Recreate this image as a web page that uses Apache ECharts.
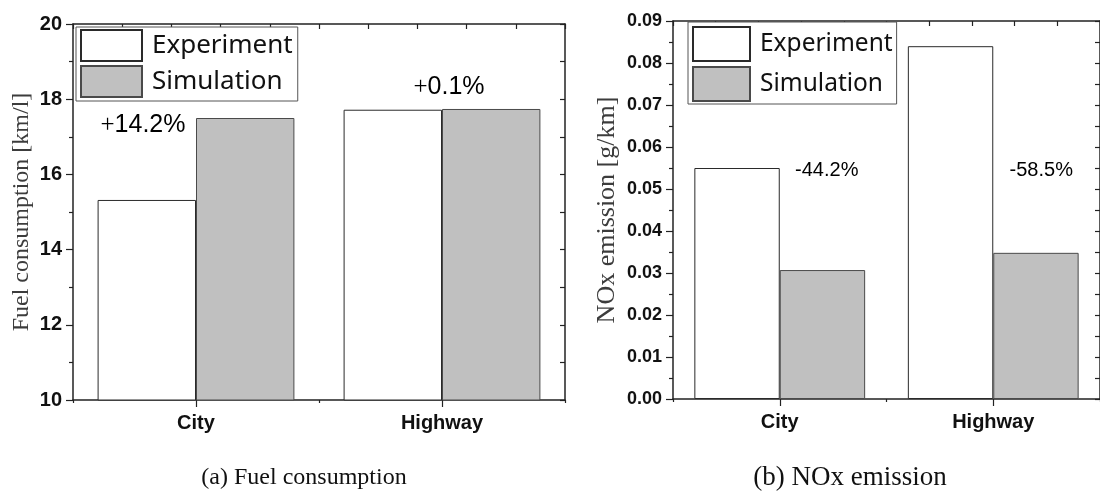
<!DOCTYPE html>
<html>
<head>
<meta charset="utf-8">
<script src="https://cdn.jsdelivr.net/npm/echarts@6/dist/echarts.min.js"></script>
<style>
  html, body { margin: 0; padding: 0; background: #fff; }
  #main { width: 1100px; height: 493px; }
</style>
</head>
<body>
<div id="main"></div>
<script>
// Vehicle test vs. simulation: fuel consumption and NOx emission per drive cycle
const categories = ['City', 'Highway'];
const seriesNames = ['Experiment', 'Simulation'];

const fuelExperiment = [15.32, 17.72];   // km/l
const fuelSimulation = [17.50, 17.74];   // km/l
const noxExperiment = [0.0550, 0.0840];  // g/km
const noxSimulation = [0.0307, 0.0348];  // g/km

const fuelDiffLabels = ['+14.2%', '+0.1%'];
const noxDiffLabels = ['-44.2%', '-58.5%'];

const fuelAxisRange = [10, 20, 2];      // min, max, major step
const noxAxisRange = [0, 0.09, 0.01];

const axisTitles = ['Fuel consumption [km/l]', 'NOx emission [g/km]'];
const captions = ['(a) Fuel consumption', '(b) NOx emission'];

const SANS = 'Liberation Sans, Arial, sans-serif';
const SERIF = 'Liberation Serif, Times New Roman, serif';
const LINE = '#222';

const grids = [
  { left: 73, top: 24, width: 492, height: 376 },
  { left: 673, top: 21, width: 435, height: 378 }
];

const xAxes = [];
const yAxes = [];

function addPanel(gi, range, rightStep, fmt, title, titleSize, nameGap, tickFont) {
  // bottom category axis with labels and centred ticks
  xAxes.push({
    type: 'category', gridIndex: gi, position: 'bottom', data: categories,
    axisLine: { show: true, lineStyle: { color: LINE, width: 1.5 } },
    axisTick: { show: true, alignWithLabel: true, length: 7, lineStyle: { color: LINE, width: 1.2 } },
    axisLabel: { margin: 13, fontFamily: SANS, fontWeight: 'bold', fontSize: 20, color: '#111' },
    splitLine: { show: false }
  });
  // short ticks at the category boundaries
  xAxes.push({
    type: 'category', gridIndex: gi, position: 'bottom', data: categories,
    axisLine: { show: false },
    axisTick: { show: true, length: 3, lineStyle: { color: LINE, width: 1.2 } },
    axisLabel: { show: false },
    splitLine: { show: false }
  });
  // mirrored top frame with inward ticks
  xAxes.push({
    type: 'value', gridIndex: gi, position: 'top', min: 0, max: 2, interval: 0.2,
    axisLine: { show: true, lineStyle: { color: LINE, width: 1.5 } },
    axisTick: { show: true, inside: true, length: 5, lineStyle: { color: LINE, width: 1.2 } },
    axisLabel: { show: false },
    splitLine: { show: false }
  });
  yAxes.push({
    type: 'value', gridIndex: gi, position: 'left',
    min: range[0], max: range[1], interval: range[2],
    name: title, nameLocation: 'middle', nameGap: nameGap,
    nameTextStyle: { fontFamily: SERIF, fontSize: titleSize, color: '#3c3c3c' },
    axisLine: { show: true, lineStyle: { color: LINE, width: 1.5 } },
    axisTick: { show: true, length: 7, lineStyle: { color: LINE, width: 1.2 } },
    minorTick: { show: true, splitNumber: 2, length: 4, lineStyle: { color: LINE, width: 1.2 } },
    axisLabel: { margin: 11, formatter: fmt, fontFamily: SANS, fontWeight: 'bold', fontSize: tickFont, color: '#111' },
    splitLine: { show: false }
  });
  yAxes.push({
    type: 'value', gridIndex: gi, position: 'right',
    min: range[0], max: range[1], interval: rightStep,
    axisLine: { show: true, lineStyle: { color: LINE, width: 1.5 } },
    axisTick: { show: true, inside: true, length: 5, lineStyle: { color: LINE, width: 1.2 } },
    axisLabel: { show: false },
    splitLine: { show: false }
  });
}

addPanel(0, fuelAxisRange, 1, v => String(v), axisTitles[0], 24, 39, 20);
addPanel(1, noxAxisRange, 0.005, v => v.toFixed(2), axisTitles[1], 26, 53, 18);

const expStyle = { color: '#ffffff', borderColor: '#2a2a2a', borderWidth: 1 };
const simStyle = { color: '#c0c0c0', borderColor: '#4a4a4a', borderWidth: 1 };

function bar(name, data, xi, yi, style) {
  return {
    type: 'bar', name: name, data: data, xAxisIndex: xi, yAxisIndex: yi,
    barGap: '0%', barCategoryGap: '20%', itemStyle: style,
    emphasis: { disabled: true }, animation: false
  };
}

const series = [
  bar(seriesNames[0], fuelExperiment, 0, 0, expStyle),
  bar(seriesNames[1], fuelSimulation, 0, 0, simStyle),
  bar(seriesNames[0], noxExperiment, 3, 2, expStyle),
  bar(seriesNames[1], noxSimulation, 3, 2, simStyle)
];

function legendBox(left, top, w, h, gap, fs, padding) {
  return {
    left: left, top: top, orient: 'vertical', data: seriesNames,
    icon: 'rect', itemWidth: w, itemHeight: h, itemGap: gap,
    padding: padding, borderColor: '#555', borderWidth: 1, backgroundColor: '#fff',
    selectedMode: false,
    textStyle: { fontFamily: 'Noto Sans, sans-serif', fontSize: fs, color: '#111', lineHeight: h, padding: [0, 0, 0, 5] }
  };
}

const chart = echarts.init(document.getElementById('main'), null, { renderer: 'canvas' });
chart.setOption({
  animation: false,
  backgroundColor: '#fff',
  grid: grids,
  xAxis: xAxes,
  yAxis: yAxes,
  legend: [
    legendBox(76, 27, 61, 31, 3, 26, [2, 5, 3, 4]),
    legendBox(688, 22, 57, 34, 4, 24.5, [4, 4, 2, 4])
  ],
  series: series
});

// difference annotations, placed relative to the bars they compare
function px(gridIdx, cat, value) {
  const xi = gridIdx === 0 ? 0 : 3;
  const yi = gridIdx === 0 ? 0 : 2;
  return chart.convertToPixel({ xAxisIndex: xi, yAxisIndex: yi }, [cat, value]);
}

function diffText(label, pos, fs) {
  const sign = label.charAt(0);
  const body = label.slice(1);
  const isPlus = sign === '+';
  return {
    type: 'text', x: pos[0], y: pos[1], silent: true,
    style: {
      text: '{s|' + sign + '}{n|' + body + '}',
      align: 'center', verticalAlign: 'middle',
      rich: {
        s: { fontFamily: isPlus ? SERIF : SANS, fontSize: fs, fill: '#000' },
        n: { fontFamily: SANS, fontSize: fs, fill: '#000' }
      }
    }
  };
}

const a0 = px(0, categories[0], fuelSimulation[0]);
const a1 = px(0, categories[1], fuelSimulation[1]);
const b0 = px(1, categories[0], noxExperiment[0]);
const b1 = px(1, categories[1], noxExperiment[0]);

const graphics = [
  diffText(fuelDiffLabels[0], [a0[0] - 53, a0[1] + 7], 25),
  diffText(fuelDiffLabels[1], [a1[0] + 7, a1[1] - 22], 25),
  diffText(noxDiffLabels[0], [b0[0] + 47, b0[1] + 2], 20),
  diffText(noxDiffLabels[1], [b1[0] + 48, b1[1] + 2], 20),
  {
    type: 'text', x: 304, y: 478, silent: true,
    style: { text: captions[0], fontFamily: SERIF, fontSize: 24, fill: '#111', align: 'center', verticalAlign: 'middle' }
  },
  {
    type: 'text', x: 850, y: 478, silent: true,
    style: { text: captions[1], fontFamily: SERIF, fontSize: 27, fill: '#111', align: 'center', verticalAlign: 'middle' }
  }
];

chart.setOption({ graphic: graphics });
</script>
</body>
</html>
